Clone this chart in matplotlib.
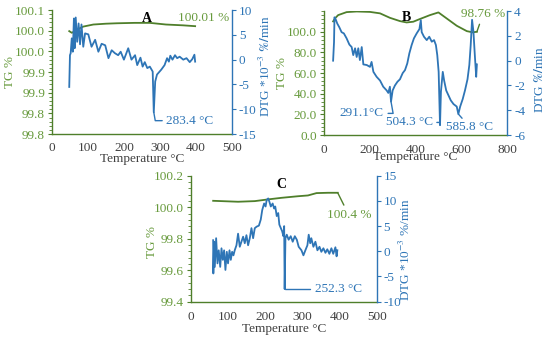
import matplotlib
matplotlib.use('Agg')
import matplotlib.pyplot as plt
from matplotlib.ticker import AutoMinorLocator, FixedLocator, FixedFormatter

plt.rcParams['font.family'] = ['Liberation Serif', 'DejaVu Serif']
plt.rcParams['mathtext.fontset'] = 'stix'
plt.rcParams['font.size'] = 9.5
plt.rcParams['axes.unicode_minus'] = False

GREEN = '#4f7f2b'
GREEN_TXT = '#679a3c'
BLUE = '#2e75b6'
GREY = '#404040'

# ---- panel A ----
a_tg_t = [48, 55, 62, 73, 87, 115, 150, 180, 230, 272, 317, 365, 398]
a_tg = [100.049, 100.045, 100.048, 100.054, 100.060, 100.065, 100.067, 100.068,
        100.069, 100.069, 100.065, 100.063, 100.061]
a_dtg_t = [48, 50, 52, 55, 58, 61, 63, 66, 70, 74, 78, 82, 87, 92, 101, 110, 120,
           129, 138, 148, 157, 166, 175, 184, 191, 200, 212, 221, 231, 237, 246,
           252, 258, 265, 272, 280, 283, 287, 292, 304, 313, 320, 325, 329, 335,
           342, 348, 355, 365, 374, 383, 390, 396, 398]
a_dtg = [-5.5, 0.9, 1.3, 4.3, 1.6, 8.3, 2.3, 8.5, 3.6, 7.3, 3.1, 7.1, 2.6, 5.3, 5.1,
         2.6, 4.0, 1.6, 3.2, 2.9, 0.3, 1.9, 1.3, 0.9, 1.6, 0.0, 2.3, 0.0, 0.9, -1.1,
         0.4, -1.4, -0.5, -1.7, -1.4, -2.4, -10.6, -4.4, -3.0, -2.0, -1.1, 0.3, -0.4,
         0.8, 0.0, 0.9, 0.3, 0.6, 0.0, 0.3, -0.5, 0.1, 1.0, -0.4]
a_left_ticks = [99.80, 99.85, 99.90, 99.95, 100.00, 100.05, 100.10]
a_left_labels = ['99.8', '99.8', '99.9', '99.9', '100.0', '100.0', '100.1']

# ---- panel B ----
b_tg_t = [40, 48, 62, 99, 143, 201, 245, 288, 332, 361, 390, 419, 463, 500, 536,
          580, 624, 650, 668]
b_tg = [110.0, 112.9, 116.1, 119.0, 119.6, 119.2, 117.8, 113.5, 110.3, 109.0,
        109.7, 112.3, 116.1, 118.7, 112.9, 105.8, 100.6, 99.4, 100.0]
b_dtg_t = [40, 44, 46, 52, 58, 67, 77, 87, 99, 111, 121, 128, 136, 143, 150, 157,
           165, 172, 187, 201, 208, 216, 230, 245, 259, 274, 281, 288, 293, 300,
           310, 321, 332, 344, 354, 364, 373, 383, 393, 405, 417, 423, 427, 437,
           449, 460, 471, 481, 489, 495, 501, 507, 511, 519, 525, 534, 544, 554,
           566, 580, 587, 595, 606, 616, 627, 635, 641, 647, 653, 659, 665, 668]
b_dtg = [0.0, 1.5, 3.5, 3.3, 3.0, 2.7, 2.3, 2.2, 1.8, 1.3, 1.1, 0.45, 1.0, 0.3,
         1.0, 0.05, 1.1, -0.3, -0.35, -0.5, -0.1, -0.9, -1.3, -1.6, -2.1, -2.4,
         -2.6, -2.1, -3.3, -2.4, -2.0, -1.7, -1.5, -1.0, -0.76, -0.22, 0.59, 1.26,
         1.8, 2.2, 2.55, 3.27, 2.3, 1.93, 1.66, 1.93, 1.53, 1.66, 1.26, 0.45, -0.9,
         -5.2, -2.5, -0.9, -1.6, -2.4, -2.8, -3.2, -3.5, -3.7, -4.3, -3.7, -3.1,
         -2.4, -1.5, -0.35, 1.26, 3.3, 2.33, 0.45, -1.3, -0.3]

# ---- panel C ----
c_tg_t = [60, 127, 172, 208, 244, 288, 315, 338, 369, 395]
c_tg = [100.041, 100.035, 100.039, 100.050, 100.060, 100.070, 100.075, 100.090,
        100.092, 100.092]
c_dtg_t = [60, 60.5, 62.6, 64.4, 68, 71.6, 75, 79, 82.4, 86, 89.5, 93, 96.7, 100,
           104, 107.4, 111, 114.6, 118, 122.7, 127, 131.6, 136, 140.6, 145, 149.5,
           154, 158.5, 163, 167.5, 172, 177, 183, 188, 192, 197, 201, 204, 208,
           211, 215, 220, 224, 227, 231, 235, 238, 242, 245.5, 249, 251, 252.3,
           254.4, 258, 263, 268.6, 274, 279.6, 285, 290, 297.5, 302.8, 308, 313.5,
           317, 321, 324, 329.6, 335, 340.4, 346, 351, 356.5, 362, 367, 372.6, 378,
           383, 388.8, 392, 394]
c_dtg = [2.2, -4.4, 1.9, -3.1, 2.6, -2.4, 0.2, -3.1, 0.6, -1.7, 0.2, -3.7, -0.1,
         -2.4, 0.2, -1.7, -0.1, -0.8, 0.2, 1.2, 3.5, 0.9, 1.9, 2.9, 1.6, 3.2, 1.2,
         2.6, 4.6, 2.6, 4.6, 4.9, 5.1, 6.3, 8.2, 9.5, 8.9, 10.2, 10.5, 9.9, 8.9,
         9.5, 8.5, 8.9, 7.0, 7.6, 5.3, 4.6, 4.0, 3.0, 5.0, -7.5, 2.6, 3.3, 2.3,
         3.0, 1.9, 3.0, 2.3, 0.9, 0.2, -0.8, 0.2, 1.2, 3.3, 1.6, 2.6, 0.9, 1.9,
         0.2, 0.9, -0.1, 0.6, -0.3, 0.4, -0.5, 0.6, -0.5, 0.8, -1.0, 0.2]


def make_panel(rect, xlim, xstep, tg_lim, tg_ticks, dtg_lim, dtg_step,
               tg_labels=None, dtg_label=None, label_pos=None, xpads=(3, -2)):
    ax = fig.add_axes(rect)
    ax2 = ax.twinx()
    ax.set_xlim(*xlim)
    ax.set_xticks(range(xlim[0], xlim[1] + 1, xstep))
    ax.set_ylim(*tg_lim)
    ax.yaxis.set_major_locator(FixedLocator(tg_ticks))
    if tg_labels is not None:
        ax.yaxis.set_major_formatter(FixedFormatter(tg_labels))
    else:
        ax.yaxis.set_major_formatter(plt.FormatStrFormatter('%.1f'))
    ax.yaxis.set_minor_locator(AutoMinorLocator(5))
    ax2.set_ylim(*dtg_lim)
    ax2.set_yticks(range(dtg_lim[0], dtg_lim[1] + 1, dtg_step))

    for s in ['top', 'right']:
        ax.spines[s].set_visible(False)
    for s in ['top', 'left', 'bottom']:
        ax2.spines[s].set_visible(False)
    ax.spines['left'].set_color(GREEN)
    ax.spines['bottom'].set_color(GREEN)
    ax2.spines['right'].set_color(BLUE)
    for sp in [ax.spines['left'], ax.spines['bottom'], ax2.spines['right']]:
        sp.set_linewidth(1.0)

    ax.tick_params(axis='x', length=0, pad=xpads[0], labelcolor=GREY)
    ax.tick_params(axis='y', which='major', length=3, color=GREEN, pad=2,
                   labelcolor=GREEN_TXT)
    ax.tick_params(axis='y', which='minor', length=2, color=GREEN)
    ax2.tick_params(axis='y', length=3, color=BLUE, pad=2, labelcolor=BLUE)

    ax.set_xlabel('Temperature °C', color=GREY, labelpad=xpads[1])
    ax.set_ylabel('TG %', color=GREEN_TXT)
    ax2.set_ylabel(dtg_label, color=BLUE)
    ax.yaxis.set_label_coords(label_pos[0], label_pos[1])
    ax2.yaxis.set_label_coords(label_pos[2], label_pos[3])
    return ax, ax2


fig = plt.figure(figsize=(5.5, 3.42), dpi=100)

dtg_a = r'DTG *10$^{-3}$ $\mathbf{\%/}$min'
dtg_b = r'DTG $\mathbf{\%/}$min'
dtg_c = r'DTG *10$^{-3}$ %/min'

# panel A
ax, ax2 = make_panel([0.0945, 0.608, 0.327, 0.3626], (0, 500), 100,
                     (99.8, 100.1), a_left_ticks, (-15, 10), 5,
                     tg_labels=a_left_labels, dtg_label=dtg_a,
                     label_pos=(-0.2, 0.5, 1.144, 0.55), xpads=(6.0, -1))
ax.plot(a_tg_t, a_tg, color=GREEN, lw=1.3)
ax2.plot(a_dtg_t, a_dtg, color=BLUE, lw=1.3)
ax.text(350, 100.081, '100.01 %', color=GREEN_TXT, va='center', ha='left')
ax.text(263, 100.079, 'A', fontweight='bold', va='center', ha='center',
        fontsize=10)
i = a_dtg.index(min(a_dtg))
ax2.annotate('283.4 °C', xy=(a_dtg_t[i], a_dtg[i]), xytext=(318, -12.3),
             color=BLUE, va='center', ha='left',
             arrowprops=dict(arrowstyle='-', color=BLUE, lw=1.0,
                             shrinkA=1, shrinkB=0,
                             connectionstyle='angle,angleA=0,angleB=100,rad=0'))

# panel B
ax, ax2 = make_panel([0.589, 0.605, 0.333, 0.3626], (0, 800), 200,
                     (0, 120), [0, 20, 40, 60, 80, 100], (-6, 4), 2,
                     dtg_label=dtg_b, label_pos=(-0.197, 0.5, 1.142, 0.45),
                     xpads=(6.6, -3.5))
ax.plot(b_tg_t, b_tg, color=GREEN, lw=1.3)
ax2.plot(b_dtg_t, b_dtg, color=BLUE, lw=1.3)
ax.text(361, 113.5, 'B', fontweight='bold', va='center', ha='center',
        fontsize=10)
ax.annotate('98.76 %', xy=(b_tg_t[-1], b_tg[-1]), xytext=(695, 117),
            color=GREEN_TXT, va='center', ha='center',
            arrowprops=dict(arrowstyle='-', color=GREEN, lw=1.0,
                            shrinkA=1, shrinkB=0))
ax2.annotate('291.1°C', xy=(293, -3.3), xytext=(262, -4.25),
             color=BLUE, va='center', ha='right',
             arrowprops=dict(arrowstyle='-', color=BLUE, lw=1.0,
                             shrinkA=1, shrinkB=0,
                             connectionstyle='angle,angleA=0,angleB=100,rad=0'))
ax2.annotate('504.3 °C', xy=(507, -4.98), xytext=(475, -4.98),
             color=BLUE, va='center', ha='right',
             arrowprops=dict(arrowstyle='-', color=BLUE, lw=1.0,
                             shrinkA=1, shrinkB=0))
ax2.annotate('585.8 °C', xy=(587, -4.3), xytext=(637, -5.35),
             color=BLUE, va='center', ha='center',
             arrowprops=dict(arrowstyle='-', color=BLUE, lw=1.0,
                             shrinkA=0, shrinkB=0))

# panel C
ax, ax2 = make_panel([0.347, 0.118, 0.338, 0.368], (0, 500), 100,
                     (99.4, 100.2), [99.4, 99.6, 99.8, 100.0, 100.2], (-10, 15), 5,
                     dtg_label=dtg_c, label_pos=(-0.176, 0.47, 1.115, 0.41),
                     xpads=(7.0, 0))
ax.plot(c_tg_t, c_tg, color=GREEN, lw=1.3)
ax2.plot(c_dtg_t, c_dtg, color=BLUE, lw=1.3)
ax.text(243, 100.145, 'C', fontweight='bold', va='center', ha='center',
        fontsize=10)
ax.annotate('100.4 %', xy=(c_tg_t[-1], c_tg[-1]), xytext=(425, 99.95),
            color=GREEN_TXT, va='center', ha='center',
            arrowprops=dict(arrowstyle='-', color=GREEN, lw=1.0,
                            shrinkA=1, shrinkB=0))
i = c_dtg.index(min(c_dtg))
ax2.annotate('252.3 °C', xy=(c_dtg_t[i], c_dtg[i]), xytext=(333, -7.5),
             color=BLUE, va='center', ha='left',
             arrowprops=dict(arrowstyle='-', color=BLUE, lw=1.0,
                             shrinkA=1, shrinkB=0,
                             connectionstyle='angle,angleA=0,angleB=90,rad=0'))

fig.savefig('out.png', dpi=100)
